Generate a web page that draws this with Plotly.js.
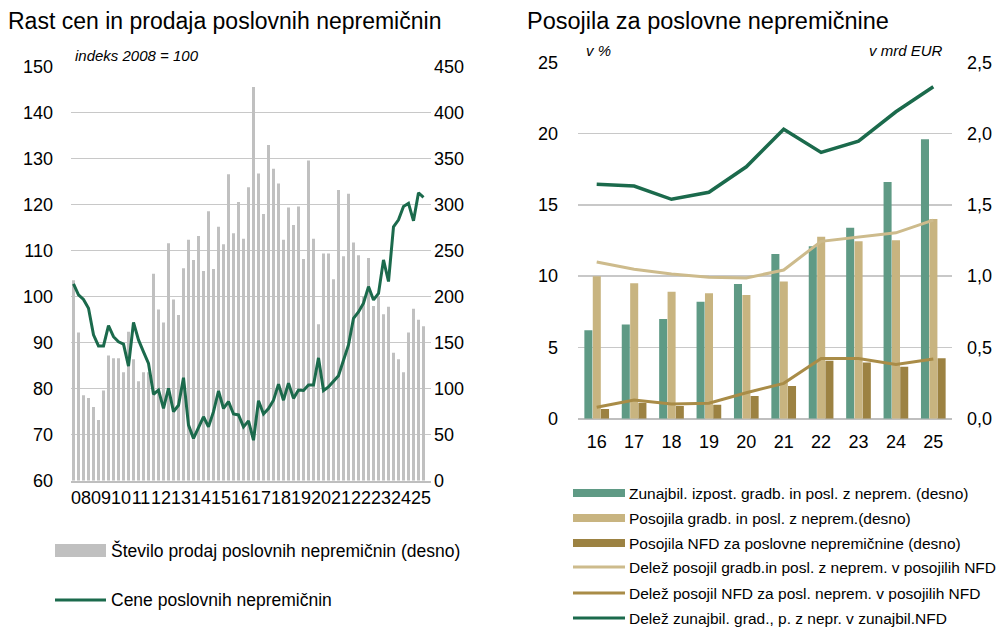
<!DOCTYPE html>
<html>
<head>
<meta charset="utf-8">
<script src="https://cdn.plot.ly/plotly-3.0.1.min.js"></script>
<style>html,body{margin:0;padding:0;background:#fff;}#chart{width:997px;height:627px;}</style>
</head>
<body>
<div id="chart"></div>
<script>
// ---- Left chart data (quarterly, 2008Q1 .. 2025Q3) ----
const yearLabels = ['08','09','10','11','12','13','14','15','16','17','18','19','20','21','22','23','24','25'];
const salesCount = [218,161,93,90,80,66,98,136,133,133,118,162,132,108,118,118,
  225,186,172,258,197,180,231,262,240,266,228,293,230,276,257,333,269,303,263,319,
  428,334,290,365,339,323,262,297,278,298,241,348,263,170,247,247,219,316,244,312,
  259,245,200,242,190,200,181,189,139,132,118,161,187,175,168];
const priceIndex = [102.8,100.4,99.4,97.5,91.7,89.3,89.3,93.7,91.3,90.2,89.7,84.9,94.4,90.6,88.0,85.5,
  78.8,79.7,75.7,80.1,75.0,76.4,82.4,72.1,69.2,71.4,73.9,71.7,75.0,79.5,75.7,77.2,74.5,74.3,71.7,73.0,
  68.8,77.4,74.5,75.7,77.5,81.0,77.5,81.2,77.9,79.7,79.6,80.8,80.8,86.7,79.6,80.4,81.7,82.8,86.2,89.5,
  95.3,96.7,98.6,102.2,99.3,100.7,108.0,103.3,115.2,116.7,119.6,120.3,116.5,122.6,121.6];

// ---- Right chart data (annual) ----
const loanYears = ['16','17','18','19','20','21','22','23','24','25'];
const offBalance  = [0.62,0.66,0.70,0.82,0.945,1.155,1.21,1.34,1.66,1.96];
const constrLoans = [1.00,0.95,0.89,0.88,0.867,0.963,1.276,1.244,1.251,1.40];
const nfdLoans    = [0.068,0.112,0.089,0.098,0.159,0.229,0.407,0.395,0.365,0.424];
const shareConstr = [10.99,10.48,10.15,9.92,9.87,10.43,12.44,12.76,13.04,13.93];
const shareNfd    = [0.80,1.31,1.03,1.08,1.82,2.48,4.23,4.23,3.81,4.19];
const shareOffBal = [16.44,16.32,15.39,15.88,17.67,20.3,18.68,19.47,21.53,23.28];

const leftLegend = ['Število prodaj poslovnih nepremičnin (desno)', 'Cene poslovnih nepremičnin'];
const rightLegend = ['Zunajbil. izpost. gradb. in posl. z neprem. (desno)',
  'Posojila gradb. in posl. z neprem.(desno)',
  'Posojila NFD za poslovne nepremičnine (desno)',
  'Delež posojil gradb.in posl. z neprem. v posojilih NFD',
  'Delež posojil NFD za posl. neprem. v posojilih NFD',
  'Delež zunajbil. grad., p. z nepr. v zunajbil.NFD'];

const W = 997, H = 627;
const px = x => x / W;
const py = y => 1 - y / H;
const FONT = 'Liberation Sans, Arial, sans-serif';

const C_GREY = '#c0c0c0', C_DG = '#1b6a4c', C_GB = '#5f9a85', C_TAN = '#c8b480', C_BR = '#9c8242',
      C_TANL = '#cdbb8c', C_BRL = '#a98c47', C_GRID = '#c8c8c8';

const qx = salesCount.map((_, i) => i);
const yearTicks = yearLabels.map((_, k) => 1.5 + 4 * k);

const traces = [
  {type: 'bar', x: qx, y: salesCount, xaxis: 'x', yaxis: 'y', width: 0.6,
   marker: {color: C_GREY}, name: leftLegend[0], showlegend: false, hoverinfo: 'y'},
  {type: 'scatter', mode: 'lines', x: qx, y: priceIndex, xaxis: 'x', yaxis: 'y2',
   line: {color: C_DG, width: 3}, name: leftLegend[1], showlegend: false},
  {type: 'bar', x: loanYears, y: offBalance, xaxis: 'x2', yaxis: 'y3', width: 0.215, offset: -0.33,
   marker: {color: C_GB}, name: rightLegend[0], showlegend: false},
  {type: 'bar', x: loanYears, y: constrLoans, xaxis: 'x2', yaxis: 'y3', width: 0.215, offset: -0.105,
   marker: {color: C_TAN}, name: rightLegend[1], showlegend: false},
  {type: 'bar', x: loanYears, y: nfdLoans, xaxis: 'x2', yaxis: 'y3', width: 0.215, offset: 0.115,
   marker: {color: C_BR}, name: rightLegend[2], showlegend: false},
  {type: 'scatter', mode: 'lines', x: loanYears, y: shareConstr, xaxis: 'x2', yaxis: 'y4',
   line: {color: C_TANL, width: 3}, name: rightLegend[3], showlegend: false},
  {type: 'scatter', mode: 'lines', x: loanYears, y: shareNfd, xaxis: 'x2', yaxis: 'y4',
   line: {color: C_BRL, width: 3}, name: rightLegend[4], showlegend: false},
  {type: 'scatter', mode: 'lines', x: loanYears, y: shareOffBal, xaxis: 'x2', yaxis: 'y4',
   line: {color: C_DG, width: 3.5}, name: rightLegend[5], showlegend: false}
];

const tickFont = {family: FONT, size: 18, color: '#000'};

const layout = {
  width: W, height: H,
  margin: {l: 0, r: 0, t: 0, b: 0},
  paper_bgcolor: '#fff', plot_bgcolor: 'rgba(0,0,0,0)',
  showlegend: false,
  barmode: 'overlay',
  separators: ', ',
  font: {family: FONT, color: '#000'},
  xaxis: {domain: [px(71), px(431)], range: [-0.5, 71.5], tickvals: yearTicks, ticktext: yearLabels,
    tickangle: 0, tickfont: tickFont, showgrid: false, zeroline: false, showline: true,
    linecolor: '#bfbfbf', linewidth: 2, ticks: '', anchor: 'y', fixedrange: true, ticklabelstandoff: 0},
  yaxis: {domain: [py(480.7), py(66.7)], range: [0, 450], dtick: 50, side: 'right', anchor: 'x',
    showgrid: true, gridcolor: C_GRID, gridwidth: 1.5, zeroline: false, tickfont: tickFont,
    ticklabelstandoff: 2, ticks: ''},
  yaxis2: {range: [60, 150], dtick: 10, side: 'left', overlaying: 'y', anchor: 'x',
    showgrid: false, zeroline: false, tickfont: tickFont, ticks: '', ticklabelstandoff: 17},
  xaxis2: {domain: [px(578), px(952)], type: 'category', range: [-0.5, 9.5], anchor: 'y3',
    tickfont: tickFont, tickangle: 0, showgrid: false, zeroline: false, showline: false, ticks: '',
    ticklabelstandoff: 10},
  yaxis3: {domain: [py(418.7), py(62.3)], range: [0, 2.5], dtick: 0.5, tickformat: '.1f', side: 'right',
    anchor: 'x2', showgrid: true, gridcolor: C_GRID, gridwidth: 1.5, zeroline: true, zerolinecolor: '#bfbfbf',
    zerolinewidth: 2, tickfont: tickFont, ticks: '', ticklabelstandoff: 14},
  yaxis4: {range: [0, 25], dtick: 5, side: 'left', overlaying: 'y3', anchor: 'x2', showgrid: false,
    zeroline: false, tickfont: tickFont, ticks: '', ticklabelstandoff: 19},
  annotations: [],
  shapes: []
};

const A = layout.annotations, S = layout.shapes;
function text(t, x, y, size, opts) {
  A.push(Object.assign({text: t, xref: 'paper', yref: 'paper', x: px(x), y: py(y), xanchor: 'left',
    yanchor: 'middle', showarrow: false, font: {family: FONT, size: size, color: '#000'}}, opts || {}));
}
text('Rast cen in prodaja poslovnih nepremičnin', 6, 21, 23);
text('Posojila za poslovne nepremičnine', 525, 21, 23.5);
text('<i>indeks 2008 = 100</i>', 73, 55, 15);
text('<i>v %</i>', 584, 50, 15);
text('<i>v mrd EUR</i>', 945, 50, 15, {xanchor: 'right'});

// Left legend
S.push({type: 'rect', xref: 'paper', yref: 'paper', x0: px(55), x1: px(106), y0: py(557), y1: py(544),
  fillcolor: C_GREY, line: {width: 0}});
text(leftLegend[0], 109, 550, 17.5);
S.push({type: 'line', xref: 'paper', yref: 'paper', x0: px(55), x1: px(106), y0: py(600), y1: py(600),
  line: {color: C_DG, width: 3}});
text(leftLegend[1], 109, 600, 17.5);

// Right legend
const rows = [493, 518, 543, 567, 593, 618];
const rcol = [C_GB, C_TAN, C_BR, C_TANL, C_BRL, C_DG];
rows.forEach((ry, k) => {
  if (k < 3) {
    S.push({type: 'rect', xref: 'paper', yref: 'paper', x0: px(573), x1: px(625), y0: py(ry + 4), y1: py(ry - 4),
      fillcolor: rcol[k], line: {width: 0}});
  } else {
    S.push({type: 'line', xref: 'paper', yref: 'paper', x0: px(573), x1: px(625), y0: py(ry), y1: py(ry),
      line: {color: rcol[k], width: 3}});
  }
  text(rightLegend[k], 627, ry, 15.5);
});

Plotly.newPlot('chart', traces, layout, {displayModeBar: false, staticPlot: true});
</script>
</body>
</html>
